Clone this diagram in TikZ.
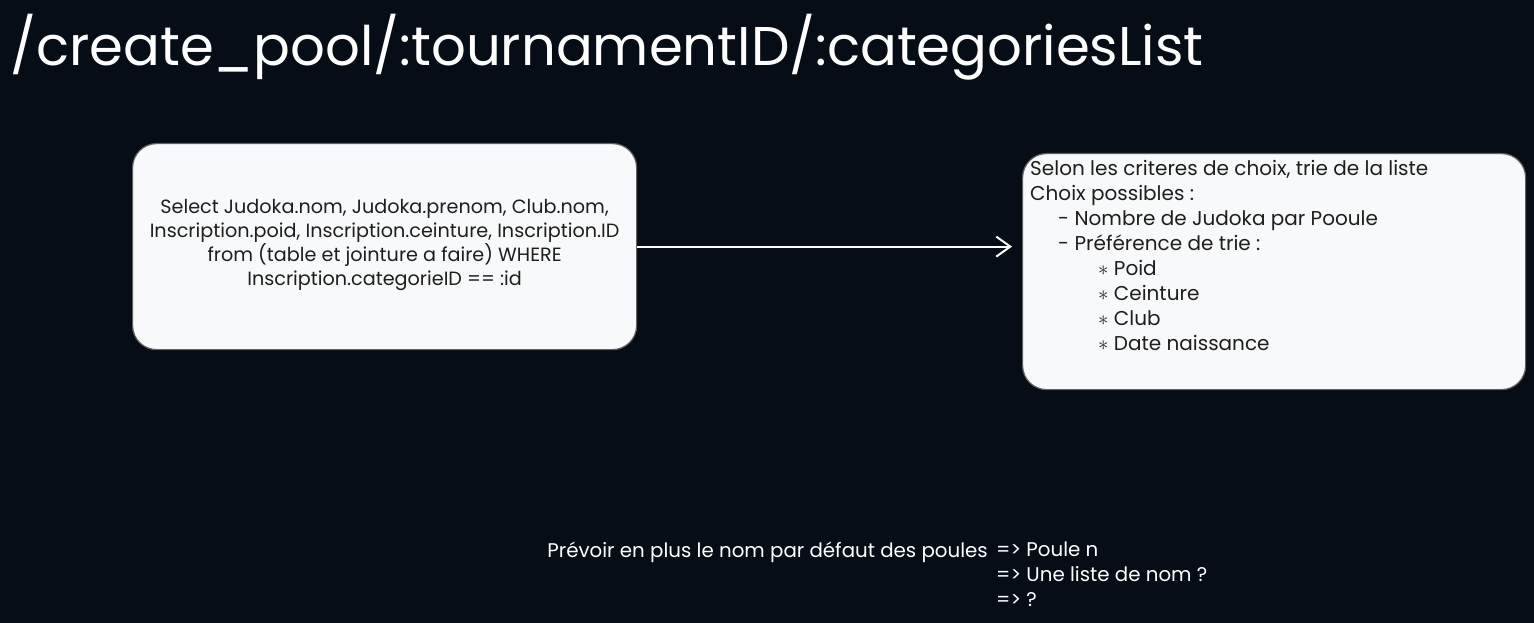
\documentclass[tikz,border=0pt]{standalone}
\usepackage{fontspec}
\setmainfont{Poppins}
\usetikzlibrary{arrows.meta}
\definecolor{canvas}{HTML}{060D16}
\definecolor{cardfill}{HTML}{F8F9FA}
\definecolor{ink}{HTML}{1E1E1E}
\definecolor{chalk}{HTML}{FFFFFF}
\begin{document}
\begin{tikzpicture}[x=1pt,y=-1pt,
  card/.style={draw=ink!70, fill=cardfill, rounded corners=24pt, line width=1.2pt, anchor=north west},
  cardtext/.style={text=ink, font=\fontsize{19.2}{24}\selectfont, inner sep=0pt},
  chalktext/.style={text=chalk, font=\fontsize{19.8}{25}\selectfont, inner sep=0pt},
  flow/.style={draw=chalk, line width=2pt, -{Straight Barb[length=14pt,width=20pt,line width=2pt]}}]
\fill[canvas] (0,0) rectangle (1534,623);
\useasboundingbox (0,0) rectangle (1534,623);

% route title
\node[text=chalk, font=\fontsize{54.5}{60}\selectfont, anchor=base west, inner sep=0pt] (title) at (10,66)
  {/create\_pool/:tournamentID/:categoriesList};

% SQL query card
\node[card, minimum width=504pt, minimum height=206pt] (query) at (132,143) {};
\node[cardtext, align=center] (querytext) at ([yshift=2pt]query.center)
  {Select Judoka.nom, Judoka.prenom, Club.nom,\\
   Inscription.poid, Inscription.ceinture, Inscription.ID\\
   from (table et jointure a faire) WHERE\\
   Inscription.categorieID == :id};

% sorting rules card
\node[card, minimum width=503pt, minimum height=236pt] (rules) at (1022,153) {};
\node[cardtext, font=\fontsize{20}{25}\selectfont, align=left, anchor=north west] (rulestext) at (1030,160)
  {Selon les criteres de choix, trie de la liste\\
   Choix possibles :\\
   \hspace*{28pt}- Nombre de Judoka par Pooule\\
   \hspace*{28pt}- Préférence de trie :\\
   \hspace*{68pt}$\ast$ Poid\\
   \hspace*{68pt}$\ast$ Ceinture\\
   \hspace*{68pt}$\ast$ Club\\
   \hspace*{68pt}$\ast$ Date naissance};

% connector
\draw[flow] (query.east) -- ([xshift=-10pt]query.east -| rules.west);

% note about default pool names
\node[chalktext, anchor=base east] (note) at (988,557)
  {Prévoir en plus le nom par défaut des poules};
\node[chalktext, align=left, anchor=north west] (noteopts) at (996,542)
  {=> Poule n\\
   => Une liste de nom ?\\
   => ?};
\end{tikzpicture}
\end{document}
